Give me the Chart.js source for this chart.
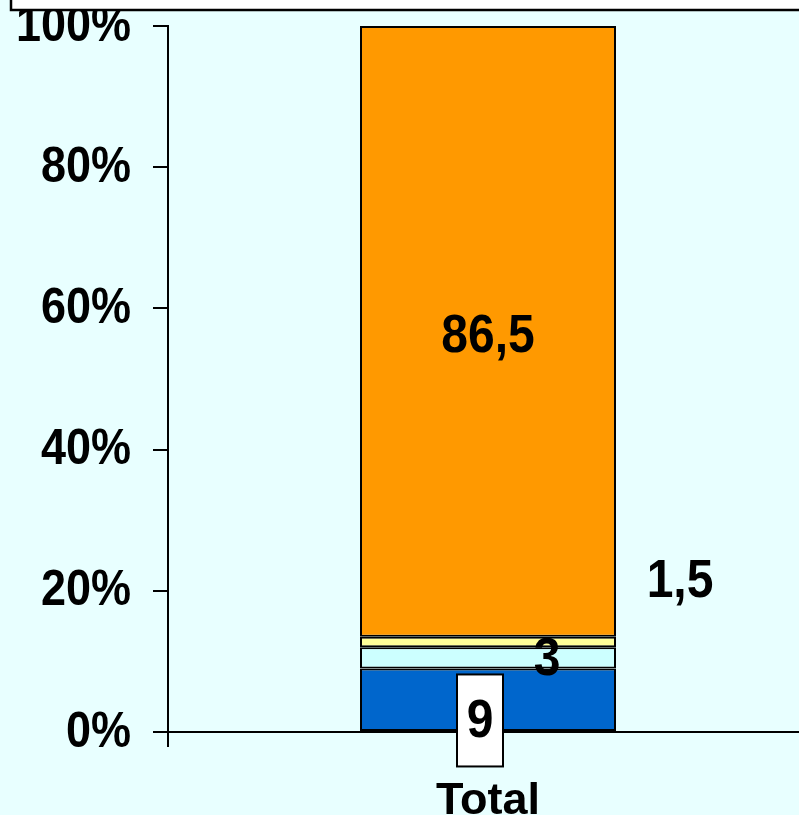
<!DOCTYPE html>
<html>
<head>
<meta charset="utf-8">
<script src="https://cdn.jsdelivr.net/npm/chart.js@4/dist/chart.umd.min.js"></script>
<style>
html, body { margin: 0; padding: 0; overflow: hidden; background: #E8FFFF; }
#wrap { width: 810px; height: 815px; position: relative; }
</style>
</head>
<body>
<div id="wrap"><canvas id="c"></canvas></div>
<script>
const categories = ['Total'];
const seriesNames = ['Série 1', 'Série 2', 'Série 3', 'Série 4'];
const series1 = [9];
const series2 = [3];
const series3 = [1.5];
const series4 = [86.5];
const yTicks = [0, 20, 40, 60, 80, 100];
const colors = ['#0066CC', '#CCFFFF', '#FFFF99', '#FF9900'];

const FONT = "'Liberation Sans', Arial, sans-serif";
const STRETCH = 1.1;

function fmt(v) { return String(v).replace('.', ','); }

function drawText(ctx, text, x, y, size, align) {
  ctx.save();
  ctx.font = "bold " + size + "px " + FONT;
  ctx.textAlign = align || 'center';
  ctx.textBaseline = 'middle';
  ctx.fillStyle = '#000';
  ctx.translate(x, y);
  ctx.scale(1, STRETCH);
  ctx.fillText(text, 0, 0);
  ctx.restore();
}

const bgPlugin = {
  id: 'bg',
  beforeDraw(chart) {
    const ctx = chart.ctx;
    ctx.save();
    ctx.fillStyle = '#E8FFFF';
    ctx.fillRect(0, 0, chart.width, chart.height);
    ctx.restore();
  }
};

const labelPlugin = {
  id: 'labels',
  afterDatasetsDraw(chart) {
    const ctx = chart.ctx;
    chart.data.datasets.forEach((ds, i) => {
      const el = chart.getDatasetMeta(i).data[0];
      if (!el) return;
      const v = fmt(ds.data[0]);
      const mid = (el.y + el.base) / 2;
      if (i === 0) {
        const bx = el.x - 8, bw = 46, bh = 92, by = el.y + 6;
        ctx.save();
        ctx.fillStyle = '#FFFFFF';
        ctx.fillRect(bx - bw / 2, by, bw, bh);
        ctx.strokeStyle = '#000';
        ctx.lineWidth = 2;
        ctx.strokeRect(bx - bw / 2, by, bw, bh);
        ctx.restore();
        drawText(ctx, v, bx, by + bh / 2 + 2, 48);
      } else if (i === 1) {
        drawText(ctx, v, el.x + 59, mid + 3, 48);
      } else if (i === 2) {
        drawText(ctx, v, el.x + 192, el.y - 54, 48);
      } else {
        drawText(ctx, v, el.x, mid + 6, 48);
      }
    });
  },
  afterDraw(chart) {
    const ctx = chart.ctx;
    const ys = chart.scales.y;
    ys.ticks.forEach(t => {
      drawText(ctx, t.value + '%', 131, ys.getPixelForValue(t.value) + 1, 45, 'right');
    });
    ctx.save();
    ctx.fillStyle = '#FFFFFF';
    ctx.fillRect(11, -10, chart.width, 20);
    ctx.strokeStyle = '#000';
    ctx.lineWidth = 2.5;
    ctx.strokeRect(11, -10, chart.width + 10, 20);
    ctx.restore();
  }
};

const datasetsSrc = [series1, series2, series3, series4];
new Chart(document.getElementById('c'), {
  type: 'bar',
  data: {
    labels: categories,
    datasets: datasetsSrc.map((d, i) => ({
      label: seriesNames[i],
      data: d,
      backgroundColor: colors[i],
      borderColor: '#000',
      borderWidth: 2,
      borderSkipped: false,
      categoryPercentage: 1,
      barPercentage: 0.4
    }))
  },
  options: {
    responsive: true,
    maintainAspectRatio: false,
    animation: false,
    layout: { padding: { top: 26, right: 2, left: 0, bottom: 0 } },
    plugins: { legend: { display: false }, tooltip: { enabled: false } },
    scales: {
      x: {
        stacked: true,
        offset: true,
        border: { color: '#000', width: 2 },
        grid: { offset: true, drawOnChartArea: false, tickLength: 15, color: '#000', lineWidth: 2 },
        ticks: { color: '#000', font: { family: FONT, size: 45, weight: 'bold' }, padding: 28 },
        afterFit(s) { s.height = 83; }
      },
      y: {
        stacked: true,
        min: 0,
        max: 100,
        border: { color: '#000', width: 2 },
        grid: { drawOnChartArea: false, tickLength: 15, color: '#000', lineWidth: 2 },
        afterBuildTicks(s) { s.ticks = yTicks.map(v => ({ value: v })); },
        ticks: {
          color: 'rgba(0,0,0,0)',
          padding: 22,
          font: { family: FONT, size: 45, weight: 'bold' },
          callback: v => v + '%'
        },
        afterFit(s) { s.width = 168; s.paddingTop = 0; s.paddingBottom = 0; }
      }
    }
  },
  plugins: [bgPlugin, labelPlugin]
});
</script>
</body>
</html>
